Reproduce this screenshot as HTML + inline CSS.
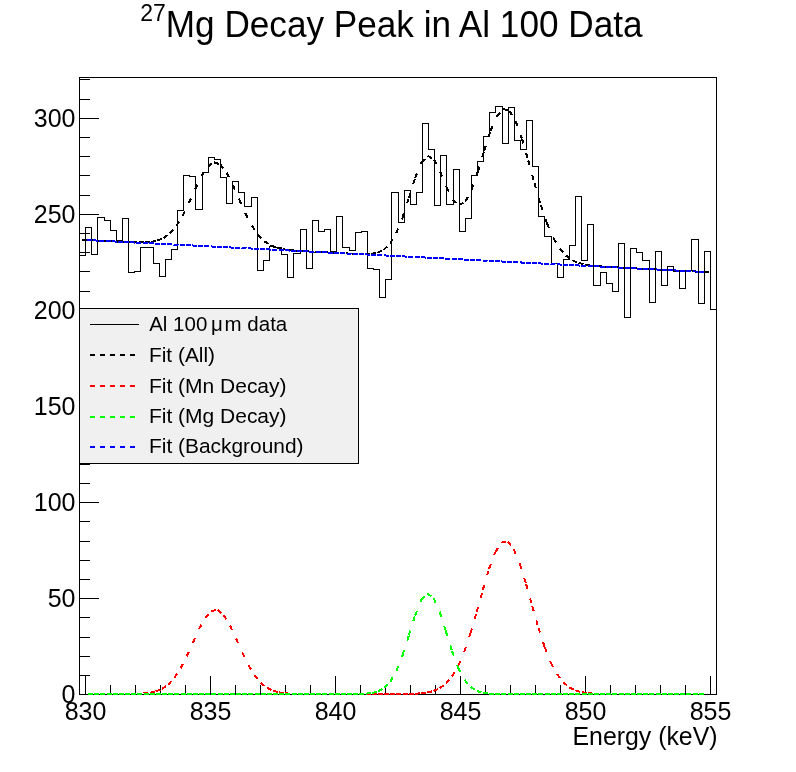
<!DOCTYPE html>
<html><head><meta charset="utf-8"><style>
html,body{margin:0;padding:0;background:#fff;}
svg{display:block;will-change:transform;}
text{font-family:"Liberation Sans",sans-serif;fill:#000;}
</style></head><body>
<svg width="796" height="772" viewBox="0 0 796 772">
<rect x="0" y="0" width="796" height="772" fill="#fff"/>
<text x="140.3" y="21.2" font-size="23">27</text>
<text x="165.8" y="37.1" font-size="37" textLength="476.7" lengthAdjust="spacingAndGlyphs" >Mg Decay Peak in Al 100 Data</text>
<rect x="79.5" y="77.5" width="637" height="617" fill="none" stroke="#000" stroke-width="1" shape-rendering="crispEdges"/>
<path d="M79.5 694.5h19M79.5 675.5h10M79.5 656.5h10M79.5 637.5h10M79.5 617.5h10M79.5 598.5h19M79.5 579.5h10M79.5 560.5h10M79.5 541.5h10M79.5 521.5h10M79.5 502.5h19M79.5 483.5h10M79.5 464.5h10M79.5 444.5h10M79.5 425.5h10M79.5 406.5h19M79.5 387.5h10M79.5 368.5h10M79.5 348.5h10M79.5 329.5h10M79.5 310.5h19M79.5 291.5h10M79.5 271.5h10M79.5 252.5h10M79.5 233.5h10M79.5 214.5h19M79.5 195.5h10M79.5 175.5h10M79.5 156.5h10M79.5 137.5h10M79.5 118.5h19M79.5 99.5h10M79.5 79.5h10M85.5 694.5v-19M110.5 694.5v-10M135.5 694.5v-10M160.5 694.5v-10M185.5 694.5v-10M210.5 694.5v-19M235.5 694.5v-10M260.5 694.5v-10M285.5 694.5v-10M310.5 694.5v-10M335.5 694.5v-19M360.5 694.5v-10M385.5 694.5v-10M410.5 694.5v-10M435.5 694.5v-10M460.5 694.5v-19M485.5 694.5v-10M510.5 694.5v-10M535.5 694.5v-10M560.5 694.5v-10M585.5 694.5v-19M610.5 694.5v-10M635.5 694.5v-10M660.5 694.5v-10M685.5 694.5v-10M710.5 694.5v-19" fill="none" stroke="#000" stroke-width="1" shape-rendering="crispEdges"/>
<path d="M79.5 694.5V255.5H85.5V227.5H91.5V254.5H97.5V217.5H104.5V220.5H110.5V230.5H116.5V240.5H122.5V218.5H128.5V272.5H134.5V271.5H140.5V247.5H146.5V247.5H153.5V263.5H159.5V276.5H165.5V259.5H171.5V249.5H177.5V210.5H183.5V175.5H189.5V176.5H195.5V209.5H202.5V172.5H208.5V157.5H214.5V159.5H220.5V177.5H226.5V203.5H232.5V181.5H238.5V192.5H244.5V206.5H251.5V197.5H257.5V270.5H263.5V260.5H269.5V246.5H275.5V247.5H281.5V254.5H287.5V277.5H293.5V253.5H300.5V229.5H306.5V268.5H312.5V220.5H318.5V231.5H324.5V229.5H330.5V251.5H336.5V216.5H342.5V247.5H349.5V250.5H355.5V232.5H361.5V231.5H367.5V268.5H373.5V269.5H379.5V297.5H385.5V279.5H391.5V192.5H398.5V222.5H404.5V190.5H410.5V204.5H416.5V192.5H422.5V123.5H428.5V149.5H434.5V205.5H440.5V155.5H446.5V204.5H453.5V169.5H459.5V231.5H465.5V218.5H471.5V175.5H477.5V161.5H483.5V136.5H489.5V112.5H495.5V106.5H502.5V143.5H508.5V107.5H514.5V140.5H520.5V149.5H526.5V120.5H532.5V166.5H538.5V216.5H544.5V236.5H551.5V263.5H557.5V277.5H563.5V259.5H569.5V245.5H575.5V196.5H581.5V260.5H587.5V224.5H593.5V285.5H600.5V272.5H606.5V283.5H612.5V291.5H618.5V243.5H624.5V317.5H630.5V248.5H636.5V252.5H642.5V260.5H649.5V302.5H655.5V251.5H661.5V285.5H667.5V266.5H673.5V271.5H679.5V288.5H685.5V270.5H691.5V239.5H698.5V303.5H704.5V251.5H710.5V309.5H716.5V694.5" fill="none" stroke="#000" stroke-width="1" shape-rendering="crispEdges"/>
<path d="M82.00 239.79L86.99 240.05M88.29 240.12L93.28 240.38M94.57 240.44L99.56 240.70M100.85 240.77L105.85 241.03M107.14 241.09L112.13 241.35M113.42 241.41L118.42 241.67M119.71 241.73L124.70 241.97M126.00 242.04L130.99 242.24M132.28 242.30L137.28 242.43M138.57 242.46L143.56 242.42M144.85 242.41L149.83 242.02M151.14 241.92L156.03 240.89M157.42 240.60L162.02 238.64M163.70 237.93L167.71 234.94M169.99 233.24L173.25 229.45M176.27 225.94L178.90 221.69M182.56 215.76L184.78 211.29M188.85 203.11L190.91 198.56M195.04 189.45L195.13 189.26M195.13 189.26L197.31 184.76M201.42 176.28L204.14 172.08M207.70 166.60L211.83 163.78M213.99 162.30L218.73 163.89M220.27 164.41L223.33 168.36M226.56 172.52L228.81 176.99M232.84 184.97L234.84 189.55M238.84 198.71L239.12 199.37M239.12 199.37L241.17 203.93M245.25 213.06L245.41 213.42M245.41 213.42L247.72 217.85M251.69 225.46L254.51 229.60M257.98 234.71L261.47 238.29M264.27 241.16L268.44 243.91M270.55 245.31L275.20 247.15M276.84 247.81L281.71 248.94M283.12 249.26L288.07 249.95M289.41 250.13L294.39 250.58M295.69 250.69L300.68 251.03M301.97 251.11L306.97 251.40M308.26 251.47L313.25 251.74M314.54 251.81L319.54 252.07M320.83 252.14L325.82 252.40M327.12 252.46L332.11 252.72M333.40 252.79L338.39 253.05M339.69 253.11L344.68 253.37M345.97 253.43L350.96 253.68M352.26 253.74L357.25 253.95M358.54 254.01L363.54 254.11M364.83 254.13L369.82 253.93M371.11 253.88L376.03 252.99M377.39 252.75L381.93 250.63M383.68 249.81L387.28 246.35M389.96 243.77L392.53 239.48M396.25 233.25L398.12 228.61M401.86 219.34L402.54 217.66M402.54 217.66L404.07 212.90M407.13 203.38L408.66 198.62M408.82 198.14L410.32 193.37M413.31 183.82L414.80 179.05M415.11 178.10L416.97 173.46M420.70 164.18L421.39 162.48M421.39 162.48L424.80 158.82M427.68 155.74L431.95 158.34M433.96 159.56L436.25 164.01M440.24 171.77L442.14 176.40M445.92 185.65L446.53 187.15M446.53 187.15L448.76 191.63M452.81 199.77L456.61 203.03M459.10 205.17L463.42 202.65M465.38 201.50L467.69 197.06M471.67 189.40L473.31 184.67M476.59 175.23L477.96 171.28M477.96 171.28L479.41 166.49M482.31 156.92L483.76 152.14M484.24 150.56L485.77 145.80M488.83 136.28L490.36 131.52M490.53 131.02L492.48 126.42M496.39 117.21L496.81 116.23M496.81 116.23L500.09 112.46M503.10 108.99L507.92 110.30M509.38 110.70L511.95 114.99M515.66 121.17L517.36 125.87M520.74 135.29L521.95 138.67M521.95 138.67L523.34 143.47M526.11 153.08L527.49 157.88M528.23 160.45L529.55 165.28M532.18 174.92L533.50 179.75M534.52 183.49L535.91 188.29M538.70 197.89L540.10 202.69M540.81 205.12L542.42 209.85M545.64 219.32L547.09 223.56M547.09 223.56L549.08 228.15M553.07 237.32L553.38 238.01M553.38 238.01L555.94 242.30M559.66 248.50L562.97 252.25M565.95 255.62L570.00 258.54M572.23 260.16L576.81 262.17M578.51 262.92L583.35 264.19M584.80 264.57L589.74 265.35M591.08 265.56L596.06 266.07M597.37 266.20L602.36 266.57M603.65 266.67L608.65 266.97M609.94 267.05L614.93 267.33M616.23 267.40L621.22 267.66M622.51 267.73L627.50 267.99M628.80 268.06L633.79 268.32M635.08 268.39L640.07 268.64M641.37 268.71L646.36 268.97M647.65 269.04L652.64 269.29M653.93 269.36L658.93 269.62M660.22 269.69L665.21 269.94M666.50 270.01L671.50 270.27M672.79 270.33L677.78 270.59M679.08 270.66L684.07 270.92M685.36 270.98L690.35 271.24M691.65 271.31L696.64 271.57M697.93 271.63L702.92 271.89M704.22 271.96L709.21 272.22" fill="none" stroke="#000" stroke-width="2" shape-rendering="crispEdges"/>
<path d="M88.00 694.00L93.00 694.00M94.17 694.00L99.17 694.00M100.34 694.00L105.34 694.00M106.51 694.00L111.51 694.00M112.68 694.00L117.68 693.99M118.85 693.99L123.85 693.98M125.02 693.97L130.02 693.93M131.19 693.92L136.19 693.81M137.36 693.79L142.35 693.54M143.53 693.48L148.50 692.93M149.70 692.79L154.58 691.70M155.87 691.42L160.49 689.51M162.04 688.87L166.14 686.01M168.21 684.56L171.60 680.89M174.38 677.87L177.12 673.69M180.55 668.43L182.83 663.99M186.72 656.40L188.77 651.84M192.88 642.72L192.89 642.69M192.89 642.69L194.95 638.14M199.06 629.04L201.45 624.65M205.23 617.70L208.57 613.98M211.40 610.84L216.34 610.10M217.57 609.91L221.39 613.13M223.74 615.11L226.32 619.39M229.91 625.33L232.03 629.86M236.08 638.54L238.11 643.11M242.16 652.25L242.25 652.45M242.25 652.45L244.44 656.94M248.42 665.11L251.00 669.39M254.59 675.37L257.77 679.22M260.76 682.85L264.66 685.98M266.93 687.81L271.43 690.00M273.10 690.81L277.93 692.11M279.27 692.48L284.22 693.16M285.44 693.32L290.43 693.65M291.61 693.72L296.61 693.86M297.78 693.89L302.78 693.95M303.95 693.96L308.95 693.98M310.12 693.99L315.12 693.99M316.29 694.00L321.29 694.00M322.46 694.00L327.46 694.00M328.63 694.00L333.63 694.00M334.80 694.00L339.80 694.00M340.97 694.00L345.97 694.00M347.14 694.00L352.14 694.00M353.31 694.00L358.31 694.00M359.48 694.00L364.48 694.00M365.65 694.00L370.65 694.00M371.82 694.00L376.82 694.00M377.99 694.00L382.99 694.00M384.16 694.00L389.16 693.99M390.33 693.99L395.33 693.98M396.50 693.98L401.50 693.96M402.67 693.95L407.67 693.89M408.84 693.88L413.84 693.73M415.01 693.70L420.00 693.39M421.18 693.32L426.14 692.69M427.35 692.53L432.21 691.34M433.52 691.02L438.10 689.01M439.69 688.31L443.71 685.33M445.86 683.73L449.11 679.93M452.03 676.52L454.55 672.20M458.20 665.93L460.16 661.33M464.09 652.13L464.37 651.47M464.37 651.47L465.97 646.74M469.17 637.26L470.54 633.22M470.54 633.22L471.94 628.42M474.74 618.82L476.14 614.02M476.71 612.05L478.04 607.23M480.71 597.59L482.04 592.77M482.88 589.75L484.30 584.95M487.13 575.36L488.55 570.57M489.05 568.88L490.80 564.19M494.29 554.82L495.22 552.33M495.22 552.33L497.91 548.11M501.39 542.66L506.30 541.72M507.56 541.48L510.74 545.34M513.73 548.98L515.64 553.60M519.46 562.84L519.90 563.91M519.90 563.91L521.37 568.69M524.32 578.25L525.80 583.02M526.07 583.91L527.41 588.72M530.09 598.36L531.43 603.18M532.24 606.10L533.61 610.91M536.34 620.53L537.71 625.34M538.41 627.79L539.94 632.55M543.01 642.07L544.54 646.82M544.58 646.95L546.43 651.59M550.13 660.88L550.75 662.45M550.75 662.45L553.10 666.87M556.92 674.04L559.96 678.01M563.09 682.09L566.91 685.32M569.26 687.30L573.72 689.57M575.43 690.44L580.23 691.82M581.60 692.22L586.54 692.97M587.77 693.16L592.76 693.53M593.94 693.62L598.94 693.80M600.11 693.84L605.11 693.92M606.28 693.94L611.28 693.97M612.45 693.98L617.45 693.99M618.62 693.99L623.62 694.00M624.79 694.00L629.79 694.00M630.96 694.00L635.96 694.00M637.13 694.00L642.13 694.00M643.30 694.00L648.30 694.00M649.47 694.00L654.47 694.00M655.64 694.00L660.64 694.00M661.81 694.00L666.81 694.00M667.98 694.00L672.98 694.00M674.15 694.00L679.15 694.00M680.32 694.00L685.32 694.00M686.49 694.00L691.49 694.00M692.66 694.00L697.66 694.00M698.83 694.00L703.83 694.00" fill="none" stroke="#f00" stroke-width="2" shape-rendering="crispEdges"/>
<path d="M88.00 694.00L93.00 694.00M94.17 694.00L99.17 694.00M100.34 694.00L105.34 694.00M106.51 694.00L111.51 694.00M112.68 694.00L117.68 694.00M118.85 694.00L123.85 694.00M125.02 694.00L130.02 694.00M131.19 694.00L136.19 694.00M137.36 694.00L142.36 694.00M143.53 694.00L148.53 694.00M149.70 694.00L154.70 694.00M155.87 694.00L160.87 694.00M162.04 694.00L167.04 694.00M168.21 694.00L173.21 694.00M174.38 694.00L179.38 694.00M180.55 694.00L185.55 694.00M186.72 694.00L191.72 694.00M192.89 694.00L197.89 694.00M199.06 694.00L204.06 694.00M205.23 694.00L210.23 694.00M211.40 694.00L216.40 694.00M217.57 694.00L222.57 694.00M223.74 694.00L228.74 694.00M229.91 694.00L234.91 694.00M236.08 694.00L241.08 694.00M242.25 694.00L247.25 694.00M248.42 694.00L253.42 694.00M254.59 694.00L259.59 694.00M260.76 694.00L265.76 694.00M266.93 694.00L271.93 694.00M273.10 694.00L278.10 694.00M279.27 694.00L284.27 694.00M285.44 694.00L290.44 694.00M291.61 694.00L296.61 694.00M297.78 694.00L302.78 694.00M303.95 694.00L308.95 694.00M310.12 694.00L315.12 694.00M316.29 694.00L321.29 694.00M322.46 694.00L327.46 694.00M328.63 694.00L333.63 694.00M334.80 694.00L339.80 694.00M340.97 694.00L345.97 693.99M347.14 693.99L352.14 693.98M353.31 693.97L358.31 693.91M359.48 693.90L364.48 693.71M365.65 693.67L370.62 693.16M371.82 693.04L376.67 691.81M377.99 691.47L382.37 689.06M384.16 688.07L387.60 684.44M390.33 681.57L392.80 677.22M396.50 670.69L398.32 666.04M401.97 656.73L402.67 654.95M402.67 654.95L404.18 650.18M407.21 640.65L408.72 635.89M408.84 635.51L410.33 630.73M413.30 621.18L414.78 616.41M415.01 615.67L416.87 611.03M420.58 601.74L421.18 600.23M421.18 600.23L424.60 596.58M427.35 593.65L431.44 596.52M433.52 597.99L435.55 602.56M439.61 611.70L439.69 611.88M439.69 611.88L441.21 616.65M444.25 626.17L445.77 630.93M445.86 631.21L447.34 635.99M450.31 645.54L451.79 650.31M452.03 651.08L453.76 655.77M457.23 665.15L458.20 667.77M458.20 667.77L460.50 672.21M464.37 679.67L467.59 683.50M470.54 687.00L474.75 689.70M476.71 690.95L481.50 692.39M482.88 692.81L487.84 693.43M489.05 693.58L494.04 693.82M495.22 693.87L500.22 693.95M501.39 693.96L506.39 693.99M507.56 693.99L512.56 694.00M513.73 694.00L518.73 694.00M519.90 694.00L524.90 694.00M526.07 694.00L531.07 694.00M532.24 694.00L537.24 694.00M538.41 694.00L543.41 694.00M544.58 694.00L549.58 694.00M550.75 694.00L555.75 694.00M556.92 694.00L561.92 694.00M563.09 694.00L568.09 694.00M569.26 694.00L574.26 694.00M575.43 694.00L580.43 694.00M581.60 694.00L586.60 694.00M587.77 694.00L592.77 694.00M593.94 694.00L598.94 694.00M600.11 694.00L605.11 694.00M606.28 694.00L611.28 694.00M612.45 694.00L617.45 694.00M618.62 694.00L623.62 694.00M624.79 694.00L629.79 694.00M630.96 694.00L635.96 694.00M637.13 694.00L642.13 694.00M643.30 694.00L648.30 694.00M649.47 694.00L654.47 694.00M655.64 694.00L660.64 694.00M661.81 694.00L666.81 694.00M667.98 694.00L672.98 694.00M674.15 694.00L679.15 694.00M680.32 694.00L685.32 694.00M686.49 694.00L691.49 694.00M692.66 694.00L697.66 694.00M698.83 694.00L703.83 694.00" fill="none" stroke="#0f0" stroke-width="2" shape-rendering="crispEdges"/>
<path d="M87.00 240.05L91.99 240.31M93.18 240.37L98.17 240.63M99.36 240.69L104.35 240.95M105.54 241.01L110.53 241.27M111.72 241.33L116.71 241.59M117.90 241.65L122.89 241.91M124.08 241.97L129.07 242.23M130.26 242.29L135.25 242.55M136.44 242.61L141.43 242.87M142.62 242.93L147.61 243.19M148.80 243.25L153.79 243.50M154.98 243.57L159.97 243.82M161.16 243.89L166.15 244.14M167.34 244.20L172.33 244.46M173.52 244.52L178.51 244.78M179.70 244.84L184.69 245.10M185.88 245.16L190.87 245.42M192.06 245.48L197.05 245.74M198.24 245.80L203.23 246.06M204.42 246.12L209.41 246.38M210.60 246.44L215.59 246.70M216.78 246.76L221.77 247.02M222.96 247.08L227.95 247.34M229.14 247.40L234.13 247.66M235.32 247.72L240.31 247.98M241.50 248.04L246.49 248.30M247.68 248.36L252.67 248.62M253.86 248.68L258.85 248.94M260.04 249.00L265.03 249.26M266.22 249.32L271.21 249.57M272.40 249.64L277.39 249.89M278.58 249.96L283.57 250.21M284.76 250.28L289.75 250.53M290.94 250.59L295.93 250.85M297.12 250.91L302.11 251.17M303.30 251.23L308.29 251.49M309.48 251.55L314.47 251.81M315.66 251.87L320.65 252.13M321.84 252.19L326.83 252.45M328.02 252.51L333.01 252.77M334.20 252.83L339.19 253.09M340.38 253.15L345.37 253.41M346.56 253.47L351.55 253.73M352.74 253.79L357.73 254.05M358.92 254.11L363.91 254.37M365.10 254.43L370.09 254.69M371.28 254.75L376.27 255.01M377.46 255.07L382.45 255.33M383.64 255.39L388.63 255.65M389.82 255.71L394.81 255.96M396.00 256.03L400.99 256.28M402.18 256.35L407.17 256.60M408.36 256.66L413.35 256.92M414.54 256.98L419.53 257.24M420.72 257.30L425.71 257.56M426.90 257.62L431.89 257.88M433.08 257.94L438.07 258.20M439.26 258.26L444.25 258.52M445.44 258.58L450.43 258.84M451.62 258.90L456.61 259.16M457.80 259.22L462.79 259.48M463.98 259.54L468.97 259.80M470.16 259.86L475.15 260.12M476.34 260.18L481.33 260.44M482.52 260.50L487.51 260.76M488.70 260.82L493.69 261.08M494.88 261.14L499.87 261.40M501.06 261.46L506.05 261.72M507.24 261.78L512.23 262.03M513.42 262.10L518.41 262.35M519.60 262.42L524.59 262.67M525.78 262.73L530.77 262.99M531.96 263.05L536.95 263.31M538.14 263.37L543.13 263.63M544.32 263.69L549.31 263.95M550.50 264.01L555.49 264.27M556.68 264.33L561.67 264.59M562.86 264.65L567.85 264.91M569.04 264.97L574.03 265.23M575.22 265.29L580.21 265.55M581.40 265.61L586.39 265.87M587.58 265.93L592.57 266.19M593.76 266.25L598.75 266.51M599.94 266.57L604.93 266.83M606.12 266.89L611.11 267.15M612.30 267.21L617.29 267.47M618.48 267.53L623.47 267.79M624.66 267.85L629.65 268.10M630.84 268.17L635.83 268.42M637.02 268.49L642.01 268.74M643.20 268.81L648.19 269.06M649.38 269.12L654.37 269.38M655.56 269.44L660.55 269.70M661.74 269.76L666.73 270.02M667.92 270.08L672.91 270.34M674.10 270.40L679.09 270.66M680.28 270.72L685.27 270.98M686.46 271.04L691.45 271.30M692.64 271.36L697.63 271.62M698.82 271.68L703.81 271.94" fill="none" stroke="#00f" stroke-width="2" shape-rendering="crispEdges"/>
<g font-size="25"><text x="75.5" y="703.1" text-anchor="end">0</text><text x="75.5" y="607.1" text-anchor="end">50</text><text x="75.5" y="511.1" text-anchor="end">100</text><text x="75.5" y="415.1" text-anchor="end">150</text><text x="75.5" y="319.1" text-anchor="end">200</text><text x="75.5" y="223.1" text-anchor="end">250</text><text x="75.5" y="127.1" text-anchor="end">300</text><text x="85.5" y="720.4" text-anchor="middle">830</text><text x="210.5" y="720.4" text-anchor="middle">835</text><text x="335.5" y="720.4" text-anchor="middle">840</text><text x="460.5" y="720.4" text-anchor="middle">845</text><text x="585.5" y="720.4" text-anchor="middle">850</text><text x="710.5" y="720.4" text-anchor="middle">855</text></g>
<text x="572.5" y="744.5" font-size="25.3" textLength="145.0" lengthAdjust="spacingAndGlyphs" >Energy (keV)</text>
<rect x="79.5" y="308.5" width="279" height="155" fill="#f0f0f0" stroke="#000" stroke-width="1" shape-rendering="crispEdges"/>
<path d="M90 324.5H139" stroke="#000" stroke-width="1" shape-rendering="crispEdges"/>
<text x="149.2" y="331.4" font-size="20.5">Al 100</text><text x="211" y="331.4" font-size="20.5">μ</text><text x="224.6" y="331.4" font-size="20.5">m data</text>
<path d="M90 355H136" stroke="#000" stroke-width="2" stroke-dasharray="5 5" shape-rendering="crispEdges"/>
<text x="149.0" y="362.2" font-size="20.5" textLength="66.0" lengthAdjust="spacingAndGlyphs" >Fit (All)</text>
<path d="M90 386H136" stroke="#f00" stroke-width="2" stroke-dasharray="5 5" shape-rendering="crispEdges"/>
<text x="149.0" y="392.6" font-size="20.5" textLength="137.5" lengthAdjust="spacingAndGlyphs" >Fit (Mn Decay)</text>
<path d="M90 416.5H136" stroke="#0f0" stroke-width="2" stroke-dasharray="5 5" shape-rendering="crispEdges"/>
<text x="149.0" y="423.1" font-size="20.5" textLength="137.5" lengthAdjust="spacingAndGlyphs" >Fit (Mg Decay)</text>
<path d="M90 447H136" stroke="#00f" stroke-width="2" stroke-dasharray="5 5" shape-rendering="crispEdges"/>
<text x="149.0" y="453.3" font-size="20.5" textLength="154.5" lengthAdjust="spacingAndGlyphs" >Fit (Background)</text>
</svg>
</body></html>
